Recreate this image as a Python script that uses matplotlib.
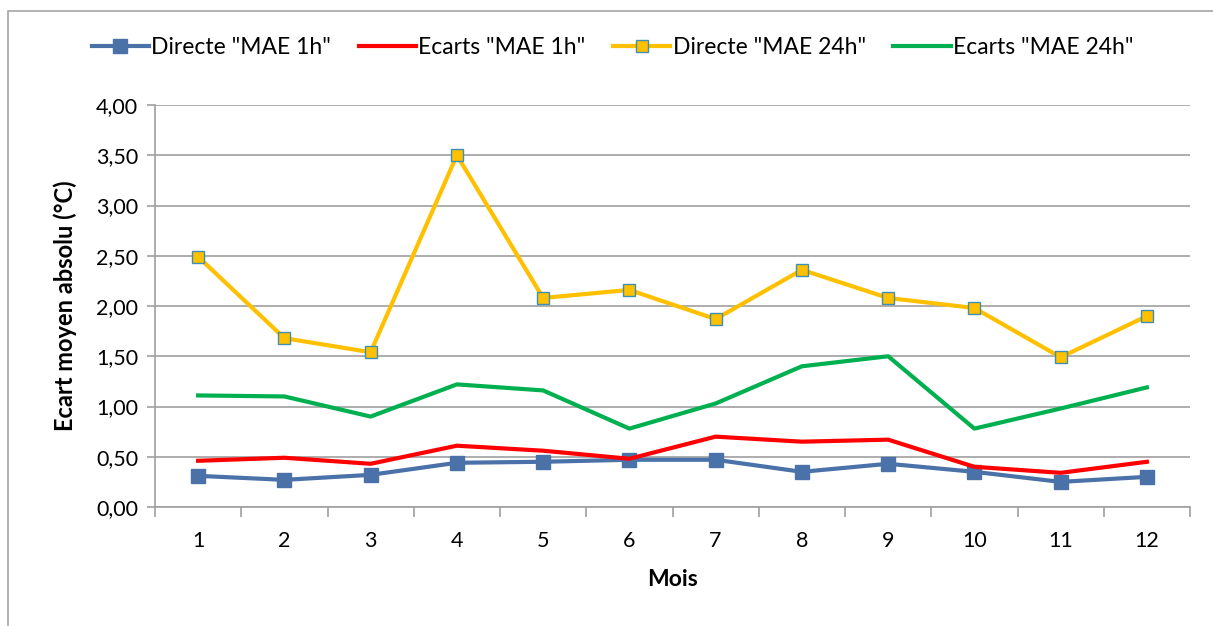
import matplotlib.pyplot as plt
import matplotlib.patches as patches
from matplotlib.ticker import FuncFormatter, MultipleLocator

plt.rcParams['font.family'] = ['Lato', 'DejaVu Sans']

mois = list(range(1, 13))
directe_1h = [0.31, 0.27, 0.32, 0.44, 0.45, 0.47, 0.47, 0.35, 0.43, 0.35, 0.25, 0.30]
ecarts_1h = [0.46, 0.49, 0.43, 0.61, 0.56, 0.48, 0.70, 0.65, 0.67, 0.40, 0.34, 0.45]
directe_24h = [2.49, 1.68, 1.54, 3.50, 2.08, 2.16, 1.87, 2.36, 2.08, 1.98, 1.49, 1.90]
ecarts_24h = [1.11, 1.10, 0.90, 1.22, 1.16, 0.78, 1.03, 1.40, 1.50, 0.78, 0.98, 1.19]

fig = plt.figure(figsize=(12.13, 6.26), dpi=100)
ax = fig.add_axes([155 / 1213, 1 - 507 / 626, (1190 - 155) / 1213, (507 - 105) / 626])

# cadre autour du graphique
fig.patches.append(patches.Rectangle((8 / 1213, -0.2), 2, 1.2 - 11 / 626, transform=fig.transFigure,
                                     fill=False, edgecolor='#a6a6a6', linewidth=1.2))

ax.plot(mois, directe_1h, color='#4a72a8', lw=3, marker='s', ms=10, label='Directe "MAE 1h"', zorder=3)
ax.plot(mois, ecarts_1h, color='#ff0000', lw=3, label='Ecarts "MAE 1h"', zorder=3)
ax.plot(mois, directe_24h, color='#ffc000', lw=3, marker='s', ms=9, mfc='#ffc000', mec='#3d8fb5',
        mew=1, label='Directe "MAE 24h"', zorder=3)
ax.plot(mois, ecarts_24h, color='#00b050', lw=3, label='Ecarts "MAE 24h"', zorder=3)

ax.set_xlim(0.5, 12.5)
ax.set_ylim(0, 4)
ax.set_xticks(mois)
ax.xaxis.set_minor_locator(MultipleLocator(1, offset=0.5))
ax.yaxis.set_major_locator(MultipleLocator(0.5))
ax.yaxis.set_major_formatter(FuncFormatter(lambda v, p: f'{v:.2f}'.replace('.', ',')))
ax.tick_params(axis='x', which='major', length=0, pad=17, labelsize=15.5)
ax.tick_params(axis='x', which='minor', length=7, color='#a0a0a0', width=1.2)
ax.tick_params(axis='y', length=6, color='#a0a0a0', width=1.2, pad=6, labelsize=15.5)
ax.grid(axis='y', color='#a0a0a0', lw=1.2)
ax.set_axisbelow(True)
for s in ['top', 'right']:
    ax.spines[s].set_visible(False)
for s in ['left', 'bottom']:
    ax.spines[s].set_color('#a0a0a0')
    ax.spines[s].set_linewidth(1.2)

ax.set_xlabel('Mois', fontsize=16.5, fontweight='bold', labelpad=13)
ax.set_ylabel('Ecart moyen absolu (°C)', fontsize=17, fontweight='bold', labelpad=14)

fig.legend(loc='center', bbox_to_anchor=(0.505, 1 - 48 / 626), ncol=4, frameon=False, fontsize=16.5,
           handlelength=2.5, handletextpad=0.1, columnspacing=1.2)

fig.savefig('out.png', dpi=100)
